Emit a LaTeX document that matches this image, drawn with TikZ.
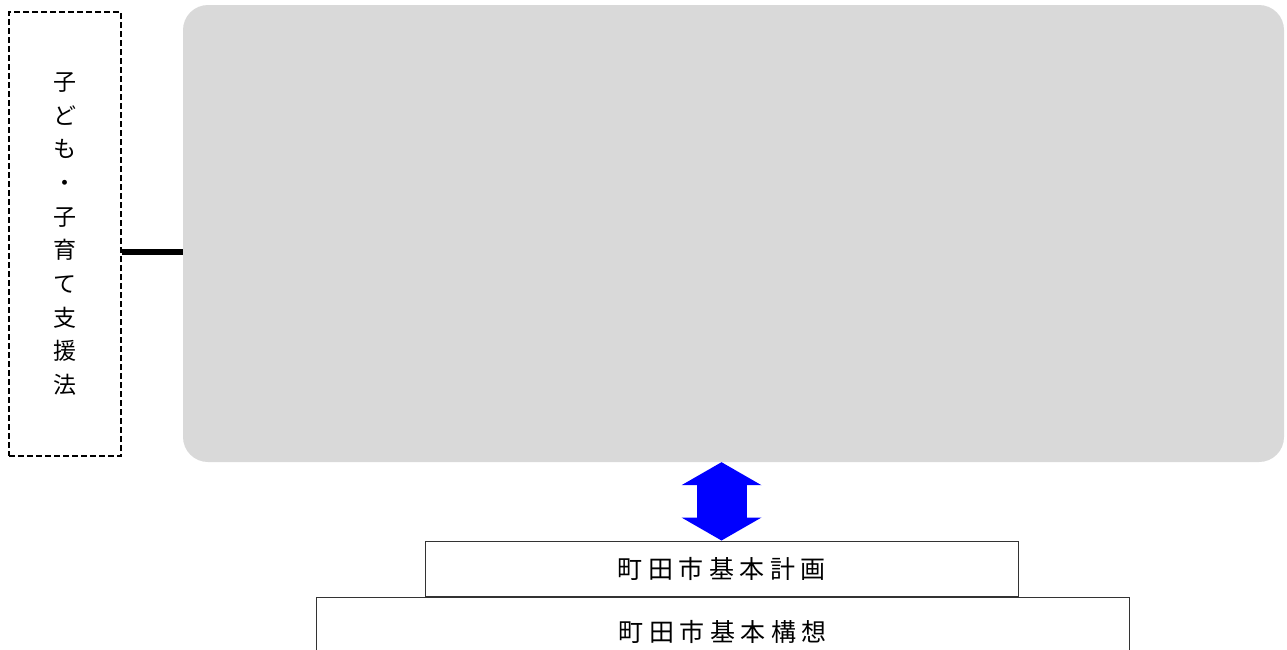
\documentclass[tikz,border=0pt]{standalone}
\usepackage{fontspec}
\usepackage{tikz}
\usetikzlibrary{calc, arrows.meta}
\newfontfamily\jp{Noto Sans CJK JP}
\newfontfamily\jpweit[LetterSpace=22]{Noto Sans CJK JP}
\definecolor{hellgrau}{HTML}{D9D9D9}
\tikzset{rahmen/.style={rectangle,draw,dash pattern=on 6pt off 3pt,line width=1.3pt},
	feld/.style={rectangle,fill=hellgrau,rounded corners=25pt},
	kasten/.style={rectangle,draw=black!80,line width=1pt,fill=white},
	verbindung/.style={line width=6pt},
	doppelpfeil/.style={blue,line width=50pt,
		{Triangle[width=80pt,length=23pt,line width=0pt]}-{Triangle[width=80pt,length=23pt,line width=0pt]}} }

\begin{document}
\begin{tikzpicture}
	[x=1pt, y=-1pt,
	 inner sep=0pt]
  \useasboundingbox (0,0) rectangle (1287,649);

  \node (grau) [feld, minimum width=1101pt, minimum height=457pt] at (733.5,233.5) {};
  \node (gesetz) [rahmen, minimum width=112pt, minimum height=444pt,
  	align=center, font=\jp\fontsize{23}{33.7}\selectfont] at (65,234)
  	{子\\ど\\も\\・\\子\\育\\て\\支\\援\\法};

  \node (konzept) [kasten, minimum width=813pt, minimum height=70pt,
  	font=\jpweit\fontsize{25}{28}\selectfont] at (722.5,632) {町田市基本構想};
  \node (plan) [kasten, minimum width=593pt, minimum height=55pt,
  	font=\jpweit\fontsize{25}{28}\selectfont] at (721.5,568.5) {町田市基本計画};

  \draw [verbindung] ($(gesetz.east)+(0,18)$) -- ($(grau.west)+(0,18.5)$);
  \draw [doppelpfeil] (grau.south -| plan.north) -- (plan.north);
\end{tikzpicture}
\end{document}
